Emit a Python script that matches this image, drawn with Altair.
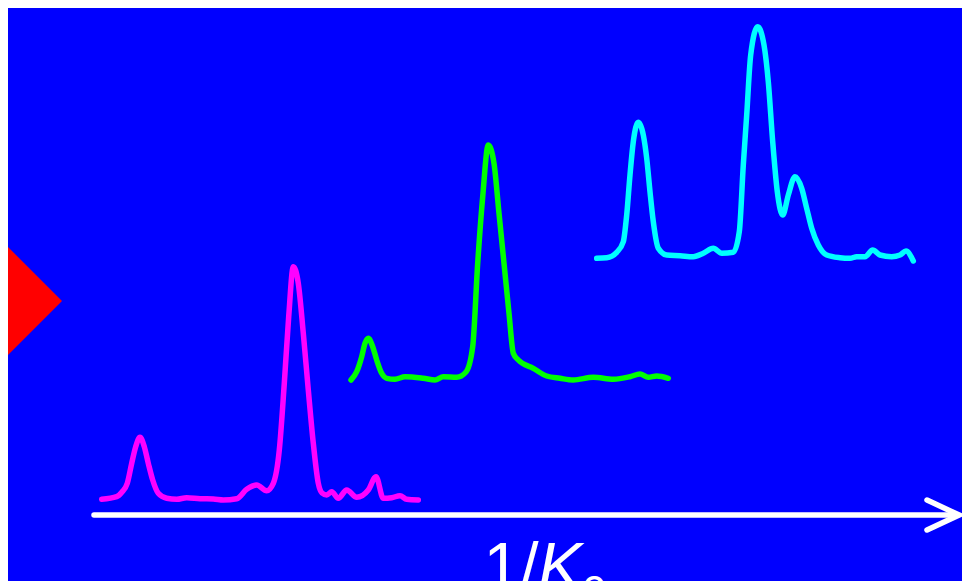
import altair as alt
import pandas as pd

# Traces (x along 1/K0, y = vertical position, downwards)
magenta_x = [101.7,116.7,122,127.3,131.7,135.7,140,144.3,148.3,152.7,158.3,166.7,176.7,186.7,200,213.3,223.3,236.7,246.7,256.7,266.7,273.3,279.3,284.3,288.7,293.3,298.3,303.3,308.3,313.3,318.3,322,326.7,331.7,338.3,346.7,356.7,368.3,376,383.3,391.7,400,406.7,418.3]
magenta_y = [499.3,496.7,492,483.3,463.3,446.7,437.3,446.7,463.3,480,493.3,498.3,499.3,497.7,498.7,499,500,498.7,489.3,485,490.7,483.3,450,383.3,316.7,266.7,283.3,333.3,390,443.3,483.3,493,495,491.7,498.3,490,497.3,490,476.7,498.3,497.7,495.7,499.3,500]

green_x = [351,356.7,361.7,365,368.3,372.7,376.7,381.7,386.7,395,405,423.3,435,443.3,456.7,466,472.7,477.7,482.7,488.3,494,499,504,509,513.3,518.3,533.3,546.7,560,573.3,593.3,613.3,630,640,648.3,656.7,668.3]
green_y = [380,371.7,356.7,343.3,338.3,346.7,360,373.3,378.3,379.3,376.7,378.3,380,376.7,377.3,372,346.7,263.3,196.7,145,163.3,213.3,263.3,313.3,353.3,360,368.3,376,378.3,380,377.3,379.3,376.7,374,377.3,376,378.3]

cyan_x = [596.7,606.7,616.7,623.3,626.7,630,633.3,638.3,643.3,646.7,650,653.3,658.3,666.7,680,693.3,703.3,713.3,721.7,733.3,739.3,743.3,746.7,750.7,757.7,764,768.3,772.7,777.3,782.7,788.3,795,801.7,806.7,811.7,818.3,826.7,840,850,856.7,865,872.7,880,891.7,900,906,913.3]
cyan_y = [258.3,257.7,252.3,241.7,215,175,141.7,122.3,135,158.3,191.7,221.7,248.3,255,255.7,256.7,253.3,248.3,253.3,252.3,231.7,165,115,55,26.7,45,81.7,141.7,191.7,215,195,176.7,188.3,208.3,228.3,245,255,257.7,258.3,256.7,256.7,250,255,256.7,255,251,261]

series_names = ["magenta", "green", "cyan"]
series_colors = ["#FF00FF", "#00FF00", "#00FFFF"]

axis_x = [94, 956]
axis_y = [515, 515]
head_x = [927, 959, 927]
head_y = [500, 515, 530]

marker_x = [0]
marker_y = [301]

label_parts = ["1/", "K", "0"]
label_x = [483.5, 538, 582]
label_y = [589, 589, 607]

rows = []
for name, xs_, ys_ in [("magenta", magenta_x, magenta_y), ("green", green_x, green_y), ("cyan", cyan_x, cyan_y)]:
    for i, (a, b) in enumerate(zip(xs_, ys_)):
        rows.append({"series": name, "x": a, "y": b, "i": i})
traces_df = pd.DataFrame(rows)

xs = alt.Scale(domain=[8, 962], nice=False, zero=False)
ys = alt.Scale(domain=[8, 581], reverse=True, nice=False, zero=False)

X = alt.X("x:Q", scale=xs, axis=None)
Y = alt.Y("y:Q", scale=ys, axis=None)

traces = alt.Chart(traces_df).mark_line(
    strokeWidth=5.5, interpolate="monotone", strokeCap="round", strokeJoin="round"
).encode(
    x=X, y=Y,
    color=alt.Color("series:N", scale=alt.Scale(domain=series_names, range=series_colors), legend=None),
    order="i:Q",
    detail="series:N",
)

axis_df = pd.DataFrame({"x": axis_x, "y": axis_y})
axis_line = alt.Chart(axis_df).mark_line(color="white", strokeWidth=5.5, strokeCap="round").encode(x=X, y=Y)

head_df = pd.DataFrame({"x": head_x, "y": head_y, "i": [0, 1, 2]})
head = alt.Chart(head_df).mark_line(color="white", strokeWidth=5.5, strokeCap="round", strokeJoin="miter").encode(
    x=X, y=Y, order="i:Q"
)

marker_df = pd.DataFrame({"x": marker_x, "y": marker_y})
marker = alt.Chart(marker_df).mark_point(
    shape="diamond", filled=True, color="#FF0000", opacity=1, size=15376, strokeWidth=0
).encode(x=X, y=Y)

lab1 = alt.Chart(pd.DataFrame({"x": [label_x[0]], "y": [label_y[0]], "t": [label_parts[0]]})).mark_text(
    align="left", baseline="alphabetic", font="Liberation Sans", fontSize=66, color="white"
).encode(x=X, y=Y, text="t:N")
lab2 = alt.Chart(pd.DataFrame({"x": [label_x[1]], "y": [label_y[1]], "t": [label_parts[1]]})).mark_text(
    align="left", baseline="alphabetic", font="Liberation Sans", fontSize=66, fontStyle="italic", color="white"
).encode(x=X, y=Y, text="t:N")
lab3 = alt.Chart(pd.DataFrame({"x": [label_x[2]], "y": [label_y[2]], "t": [label_parts[2]]})).mark_text(
    align="left", baseline="alphabetic", font="Liberation Sans", fontSize=44, color="white"
).encode(x=X, y=Y, text="t:N")

chart = alt.layer(marker, traces, axis_line, head, lab1, lab2, lab3).properties(
    width=954, height=573,
    autosize=alt.AutoSizeParams(type="none"),
    padding=0,
    background="#0000FF",
).configure_view(strokeWidth=0)

chart.save("out.html", embed_options={"renderer": "svg", "actions": False})
